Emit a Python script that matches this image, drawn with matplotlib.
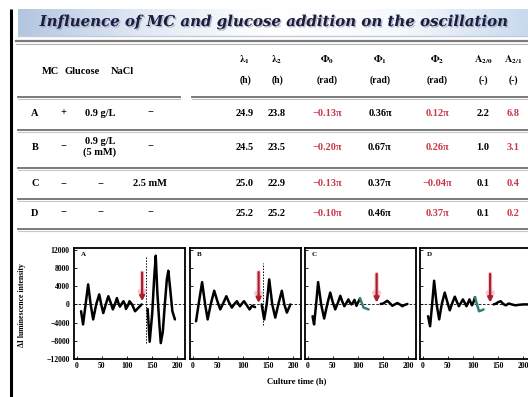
import numpy as np
import matplotlib
matplotlib.use("Agg")
import matplotlib.pyplot as plt
from matplotlib import patheffects as pe
from matplotlib.colors import LinearSegmentedColormap

plt.rcParams['font.family'] = ['Liberation Serif', 'DejaVu Serif']
plt.rcParams['mathtext.fontset'] = 'stix'

# ---- table data ----
title = "Influence of MC and glucose addition on the oscillation"
row_ids = ["A", "B", "C", "D"]
mc = ["+", "\u2212", "\u2212", "\u2212"]
glucose = ["0.9 g/L", "0.9 g/L\n(5 mM)", "\u2212", "\u2212"]
nacl = ["\u2212", "\u2212", "2.5 mM", "\u2212"]
lam1 = ["24.9", "24.5", "25.0", "25.2"]
lam2 = ["23.8", "23.5", "22.9", "25.2"]
phi0 = ["\u22120.13\u03c0", "\u22120.20\u03c0", "\u22120.13\u03c0", "\u22120.10\u03c0"]
phi1 = ["0.36\u03c0", "0.67\u03c0", "0.37\u03c0", "0.46\u03c0"]
phi2 = ["0.12\u03c0", "0.26\u03c0", "\u22120.04\u03c0", "0.37\u03c0"]
a20 = ["2.2", "1.0", "0.1", "0.1"]
a21 = ["6.8", "3.1", "0.4", "0.2"]
param_heads = [r"$\mathbf{\lambda_1}$", r"$\mathbf{\lambda_2}$", r"$\mathbf{\Phi_0}$",
               r"$\mathbf{\Phi_1}$", r"$\mathbf{\Phi_2}$", r"$\mathbf{A_{2/0}}$", r"$\mathbf{A_{2/1}}$"]
param_units = ["(h)", "(h)", "(rad)", "(rad)", "(rad)", "(-)", "(-)"]
cond_heads = ["MC", "Glucose", "NaCl"]

# ---- time courses (h, arbitrary intensity) ----
t_a_pre = [9, 13, 18, 23, 28, 33, 39, 45, 49, 53, 58, 63, 68, 72, 76, 80, 83, 86, 90, 93, 96, 98, 102, 105, 110, 116, 123, 129]
v_a_pre = [-1500, -4400, 0, 4400, 0, -3300, 0, 2200, 0, -1900, 0, 1800, 300, -1100, 0, 1400, 300, -500, 200, 700, 0, -1000, -200, 700, 0, -1500, -700, 0]
t_a_post = [141, 145, 150, 154, 157, 160, 164, 167, 171, 175, 179, 182, 186, 190, 195]
v_a_post = [-1000, -8200, -2000, 6000, 10700, 3000, -4000, -8500, -6000, 0, 5500, 7400, 3000, -1500, -3300]

t_b_pre = [7, 12, 19, 25, 30, 36, 43, 49, 55, 61, 67, 72, 78, 83, 88, 91, 94, 98, 102, 107, 113, 118, 124]
v_b_pre = [-3700, 0, 4900, 0, -3300, 0, 3000, 800, -1100, 300, 1800, 500, -700, 100, 700, 100, -400, 200, 700, -100, -1100, -300, -600]
t_b_post = [137, 142, 147, 152, 158, 164, 170, 177, 182, 187, 194]
v_b_post = [0, -3300, 0, 5500, 0, -2900, 0, 3000, 0, -1800, 0]

t_c_pre = [10, 13, 17, 21, 27, 33, 39, 45, 50, 55, 60, 65, 69, 73, 77, 81, 84, 87, 90, 93, 95, 97, 100, 104, 108, 111, 116, 121]
v_c_pre = [-2600, -4400, 0, 4900, 0, -3100, 0, 2600, 500, -1100, 300, 1900, 600, -400, 300, 1100, 400, 0, 400, 1000, 300, -300, 400, 1300, 200, -700, -900, -1100]
t_c_post = [145, 150, 158, 163, 168, 173, 178, 183, 188, 193, 198]
v_c_post = [100, 200, 800, 300, -300, 0, 300, 0, -400, -100, 100]

t_d_pre = [11, 15, 19, 23, 28, 33, 38, 44, 49, 54, 59, 64, 68, 72, 76, 80, 84, 87, 90, 93, 96, 98, 101, 104, 108, 112, 117, 121]
v_d_pre = [-2600, -4800, 0, 5200, 0, -3300, 0, 2600, 600, -1300, 300, 1700, 600, -400, 300, 1100, 300, -400, 300, 1100, 300, -200, 500, 1600, 0, -1500, -1300, -1100]
t_d_post = [141, 146, 150, 155, 160, 165, 171, 177, 184, 190, 200, 210]
v_d_post = [0, 200, 500, 700, 100, -200, 200, 0, -200, -100, 0, 0]

# addition time (arrow) and arrow extent per panel
arrow_t = [130, 131, 137, 134]
arrow_top = [7000, 7100, 6700, 6700]
arrow_tip = [700, 300, 400, 400]
teal_from = [None, None, 104, 104]

yticks = [-12000, -8000, -4000, 0, 4000, 8000, 12000]
ytick_labels = ["\u221212000", "\u22128000", "\u22124000", "0", "4000", "8000", "12000"]
xticks = [0, 50, 100, 150, 200]

W, H = 528, 397
fig = plt.figure(figsize=(W / 100, H / 100), dpi=100)
bg = fig.add_axes([0, 0, 1, 1])
bg.set_xlim(0, W)
bg.set_ylim(H, 0)
bg.axis('off')

# left border
bg.plot([11, 11], [9, H], color='black', lw=2.2, solid_capstyle='butt')

# title box with gradient
cmap = LinearSegmentedColormap.from_list('tb', ['#b3c6e0', '#e2eaf5', '#ffffff', '#f6f9fc', '#c8daee'])
bg.imshow(np.linspace(0, 1, 256)[None, :], cmap=cmap, extent=[18, W, 36, 9], aspect='auto', zorder=0)
bg.plot([18, W], [36, 36], color='#c0cad8', lw=1)
bg.text(274, 22, title, ha='center', va='center', fontsize=10.8, fontweight='bold',
        fontstyle='italic', family='DejaVu Serif', color='#1c1c40',
        path_effects=[pe.withSimplePatchShadow(offset=(1, -1), shadow_rgbFace='#8890a0', alpha=0.6)])

# rules
bg.plot([16, W], [41, 41], color='#7a7a7a', lw=1.6)
bg.plot([16, W], [44, 44], color='#b0b0b0', lw=0.8)
for x0, x1 in [(18, 180), (192, W)]:
    bg.plot([x0, x1], [97, 97], color='#7a7a7a', lw=1.4)
    bg.plot([x0, x1], [99, 99], color='#c0c0c0', lw=0.8)
for y in [130, 168, 199, 229]:
    bg.plot([18, W], [y, y], color='#7a7a7a', lw=1.4)
    bg.plot([18, W], [y + 2, y + 2], color='#c8c8c8', lw=0.8)

fs = 7.5
red = '#c8384c'
for x, s in zip([50, 82, 122], cond_heads):
    bg.text(x, 72, s, ha='center', va='center', fontsize=fs, fontweight='bold')
param_x = [245, 277, 327, 380, 437, 483, 513]
for x, h, u in zip(param_x, param_heads, param_units):
    bg.text(x, 60, h, ha='center', va='center', fontsize=fs)
    bg.text(x, 80, u, ha='center', va='center', fontsize=fs - 0.5, fontweight='bold')

row_y = [113, 147, 184, 213]
cols = [lam1, lam2, phi0, phi1, phi2, a20, a21]
red_cols = [2, 4, 6]
for i, y in enumerate(row_y):
    bg.text(35, y, row_ids[i], ha='center', va='center', fontsize=fs, fontweight='bold')
    bg.text(63, y, mc[i], ha='center', va='center', fontsize=fs, fontweight='bold')
    bg.text(100, y, glucose[i], ha='center', va='center', fontsize=fs, fontweight='bold', linespacing=1.1)
    bg.text(150, y, nacl[i], ha='center', va='center', fontsize=fs, fontweight='bold')
    for j, (x, col) in enumerate(zip(param_x, cols)):
        bg.text(x, y, col[i], ha='center', va='center', fontsize=fs, fontweight='bold',
                color=red if j in red_cols else 'black')

# ---- time course panels ----
curves = [(t_a_pre, v_a_pre, t_a_post, v_a_post),
          (t_b_pre, v_b_pre, t_b_post, v_b_post),
          (t_c_pre, v_c_pre, t_c_post, v_c_post),
          (t_d_pre, v_d_pre, t_d_post, v_d_post)]
lefts = [74, 190, 305, 420]
pw, ph, pbot = 111, 111, 359
tick_font = dict(fontsize=5.5, fontweight='bold')
for k, (tp, vp, tq, vq) in enumerate(curves):
    ax = fig.add_axes([lefts[k] / W, 1 - pbot / H, pw / W, ph / H])
    ax.set_xlim(-5, 215)
    ax.set_ylim(-12000, 12400)
    ax.axhline(0, color='black', lw=0.6, ls=(0, (3, 2)))
    tp = np.array(tp)
    vp = np.array(vp)
    line_kw = dict(lw=1.8, solid_joinstyle='round', solid_capstyle='round')
    if teal_from[k] is None:
        ax.plot(tp, vp, color='black', **line_kw)
    else:
        m = tp <= teal_from[k]
        ax.plot(tp[m], vp[m], color='black', **line_kw)
        n = tp >= teal_from[k]
        ax.plot(tp[n], vp[n], color='#2f7f78', **line_kw)
    ax.plot(tq, vq, color='black', **line_kw)
    if k < 2:
        ax.plot([arrow_t[k] + 8] * 2, [-8500, 10500] if k == 0 else [-4500, 9000],
                color='black', lw=0.7, ls=(0, (1.5, 1.5)))
    # red arrow with soft halo
    for lw, col, al, ms in [(3.2, '#f0a0aa', 0.55, 9), (1.6, '#a8202e', 1, 7)]:
        ax.annotate('', xy=(arrow_t[k], arrow_tip[k]), xytext=(arrow_t[k], arrow_top[k]),
                    arrowprops=dict(arrowstyle='-|>', color=col, lw=lw, alpha=al,
                                    mutation_scale=ms, shrinkA=0, shrinkB=0))
    ax.text(8, 11000, row_ids[k], fontsize=5, fontweight='bold', va='center')
    for s in ax.spines.values():
        s.set_linewidth(1.3)
    ax.set_xticks(xticks)
    ax.set_yticks(yticks)
    ax.tick_params(direction='in', length=2, width=0.6, pad=2.5)
    ax.set_xticklabels([str(v) for v in xticks], **tick_font)
    if k == 0:
        ax.set_yticklabels(ytick_labels, **tick_font)
        ax.tick_params(axis='y', pad=3)
    else:
        ax.set_yticklabels([])

bg.text(22, 305, "\u0394I luminescence intensity", rotation=90, ha='center', va='center',
        fontsize=5.6, fontweight='bold')
bg.text(297, 381, "Culture time (h)", ha='center', va='center', fontsize=6.2, fontweight='bold')

fig.savefig("out.png", dpi=100)
